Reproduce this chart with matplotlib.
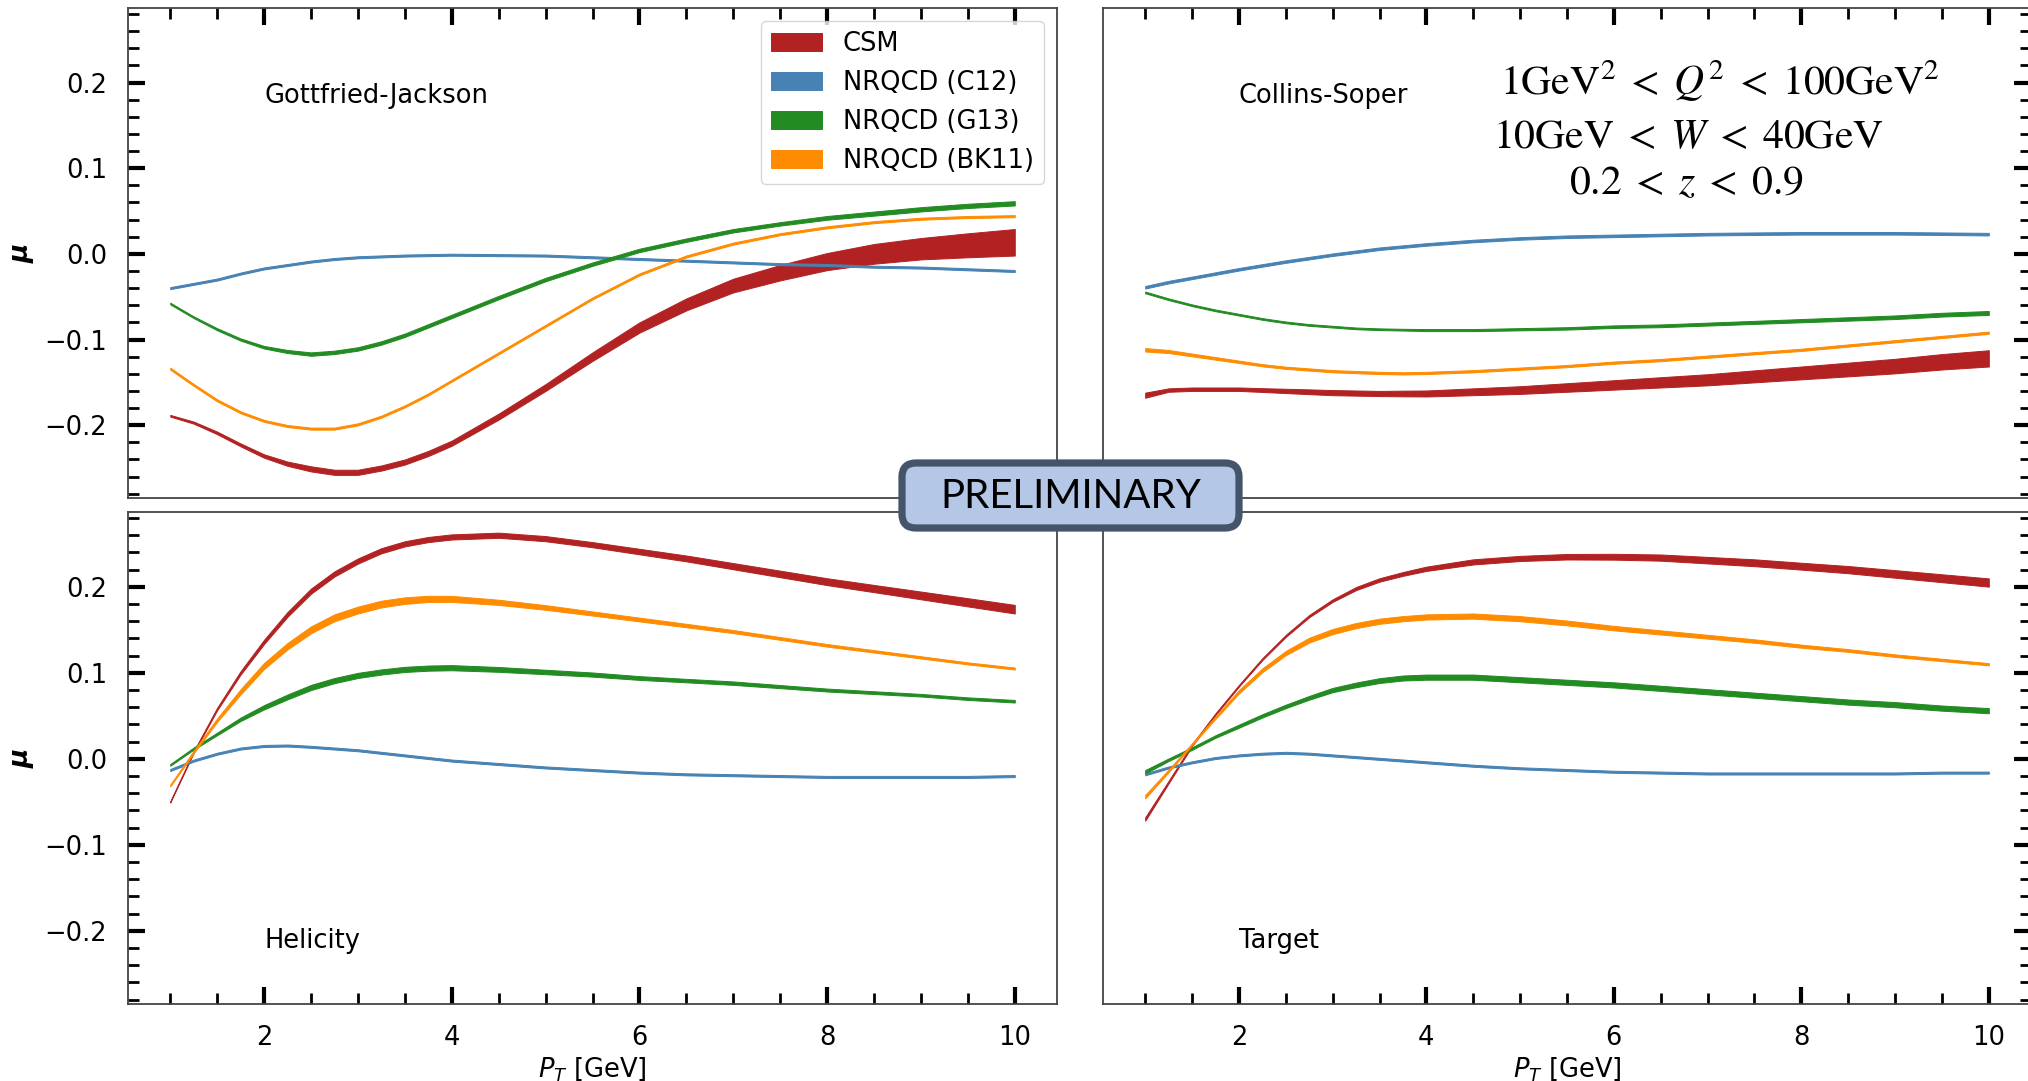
import numpy as np
import matplotlib
matplotlib.use("Agg")
import matplotlib.pyplot as plt
from matplotlib.ticker import MultipleLocator
from matplotlib.patches import FancyBboxPatch

# ---------------- data ----------------
PT = [1, 1.25, 1.5, 1.75, 2, 2.25, 2.5, 2.75, 3, 3.25, 3.5, 3.75, 4,
      4.5, 5, 5.5, 6, 6.5, 7, 7.5, 8, 8.5, 9, 9.5, 10]

SERIES = ["CSM", "NRQCD (C12)", "NRQCD (G13)", "NRQCD (BK11)"]
COLORS = ["#B22222", "#4682B4", "#228B22", "#FF8C00"]
FRAMES = ["Gottfried-Jackson", "Collins-Soper", "Helicity", "Target"]

# Gottfried-Jackson
GJ_CSM = [-0.189, -0.197, -0.209, -0.223, -0.236, -0.245, -0.251, -0.255, -0.255, -0.250, -0.243, -0.233, -0.221,
          -0.190, -0.156, -0.120, -0.086, -0.059, -0.037, -0.022, -0.009, 0.000, 0.006, 0.010, 0.0135]
GJ_CSM_ERR = [0.001, 0.0012, 0.0015, 0.0017, 0.002, 0.0025, 0.003, 0.003, 0.003, 0.003, 0.003, 0.003, 0.003,
              0.0035, 0.004, 0.005, 0.006, 0.007, 0.008, 0.009, 0.010, 0.0115, 0.0125, 0.014, 0.0155]
GJ_C12 = [-0.040, -0.035, -0.030, -0.023, -0.017, -0.013, -0.009, -0.006, -0.004, -0.003, -0.002, -0.0015, -0.001,
          -0.0015, -0.002, -0.004, -0.006, -0.008, -0.010, -0.012, -0.013, -0.015, -0.016, -0.018, -0.020]
GJ_C12_ERR = [0.0012] * 25
GJ_G13 = [-0.058, -0.074, -0.088, -0.100, -0.109, -0.114, -0.117, -0.115, -0.111, -0.104, -0.095, -0.084, -0.073,
          -0.051, -0.030, -0.012, 0.004, 0.016, 0.027, 0.035, 0.042, 0.047, 0.052, 0.056, 0.059]
GJ_G13_ERR = [0.001, 0.001, 0.0012, 0.0013, 0.0015, 0.0018, 0.002, 0.002, 0.002, 0.002, 0.002, 0.002, 0.002,
              0.002, 0.002, 0.002, 0.002, 0.002, 0.002, 0.002, 0.0022, 0.0024, 0.0025, 0.0025, 0.0025]
GJ_BK11 = [-0.134, -0.153, -0.171, -0.185, -0.195, -0.201, -0.204, -0.204, -0.199, -0.190, -0.178, -0.164, -0.148,
           -0.116, -0.084, -0.052, -0.024, -0.003, 0.012, 0.023, 0.031, 0.037, 0.041, 0.043, 0.044]
GJ_BK11_ERR = [0.0012] * 25

# Collins-Soper
CS_CSM = [-0.165, -0.159, -0.158, -0.158, -0.158, -0.159, -0.160, -0.161, -0.162, -0.1625, -0.163, -0.163, -0.163,
          -0.161, -0.159, -0.156, -0.153, -0.150, -0.147, -0.143, -0.139, -0.135, -0.131, -0.126, -0.122]
CS_CSM_ERR = [0.003, 0.002, 0.002, 0.002, 0.002, 0.0022, 0.0025, 0.0028, 0.003, 0.003, 0.003, 0.0033, 0.0035,
              0.004, 0.0045, 0.005, 0.0055, 0.006, 0.0065, 0.007, 0.0075, 0.008, 0.0085, 0.009, 0.0095]
CS_C12 = [-0.039, -0.033, -0.028, -0.023, -0.018, -0.0135, -0.009, -0.005, -0.001, 0.0025, 0.006, 0.0085, 0.011,
          0.015, 0.018, 0.020, 0.021, 0.022, 0.023, 0.0235, 0.024, 0.024, 0.024, 0.0235, 0.023]
CS_C12_ERR = [0.0015] * 25
CS_G13 = [-0.045, -0.053, -0.060, -0.066, -0.071, -0.076, -0.080, -0.083, -0.085, -0.087, -0.088, -0.0885, -0.089,
          -0.089, -0.088, -0.087, -0.085, -0.084, -0.082, -0.080, -0.078, -0.076, -0.074, -0.071, -0.069]
CS_G13_ERR = [0.001, 0.001, 0.001, 0.001, 0.001, 0.001, 0.001, 0.001, 0.001, 0.001, 0.001, 0.001, 0.0012,
              0.0012, 0.0013, 0.0014, 0.0015, 0.0016, 0.0017, 0.0018, 0.0019, 0.002, 0.0021, 0.0022, 0.0023]
CS_BK11 = [-0.112, -0.114, -0.118, -0.122, -0.126, -0.130, -0.133, -0.135, -0.137, -0.138, -0.139, -0.1395, -0.139,
           -0.137, -0.134, -0.131, -0.127, -0.124, -0.120, -0.116, -0.112, -0.107, -0.102, -0.097, -0.092]
CS_BK11_ERR = [0.002, 0.0018, 0.0016, 0.0015, 0.0014, 0.0013, 0.0013, 0.0013, 0.0013, 0.0013, 0.0013, 0.0013, 0.0013,
               0.0013, 0.0013, 0.0013, 0.0013, 0.0013, 0.0013, 0.0013, 0.0013, 0.0013, 0.0013, 0.0013, 0.0013]

# Helicity
HX_CSM = [-0.050, 0.008, 0.058, 0.100, 0.136, 0.168, 0.195, 0.215, 0.230, 0.242, 0.250, 0.255, 0.258,
          0.260, 0.256, 0.249, 0.241, 0.233, 0.224, 0.215, 0.206, 0.198, 0.190, 0.182, 0.174]
HX_CSM_ERR = [0.0008, 0.001, 0.0015, 0.002, 0.0025, 0.0028, 0.003, 0.003, 0.003, 0.003, 0.003, 0.003, 0.003,
              0.003, 0.003, 0.003, 0.0032, 0.0034, 0.0036, 0.0038, 0.004, 0.0042, 0.0045, 0.0048, 0.005]
HX_C12 = [-0.013, -0.002, 0.006, 0.012, 0.015, 0.0155, 0.014, 0.012, 0.010, 0.007, 0.004, 0.001, -0.002,
          -0.006, -0.010, -0.013, -0.016, -0.018, -0.019, -0.020, -0.021, -0.021, -0.021, -0.021, -0.020]
HX_C12_ERR = [0.0012] * 25
HX_G13 = [-0.007, 0.012, 0.029, 0.046, 0.060, 0.072, 0.083, 0.091, 0.097, 0.101, 0.104, 0.1055, 0.106,
          0.104, 0.101, 0.098, 0.094, 0.091, 0.088, 0.084, 0.080, 0.077, 0.074, 0.070, 0.067]
HX_G13_ERR = [0.001, 0.0012, 0.0015, 0.002, 0.0025, 0.0028, 0.003, 0.003, 0.003, 0.003, 0.003, 0.003, 0.003,
              0.0028, 0.0026, 0.0024, 0.0022, 0.002, 0.002, 0.0018, 0.0017, 0.0016, 0.0015, 0.0015, 0.0015]
HX_BK11 = [-0.031, 0.008, 0.045, 0.078, 0.108, 0.131, 0.150, 0.164, 0.173, 0.180, 0.184, 0.186, 0.186,
           0.182, 0.176, 0.169, 0.162, 0.155, 0.148, 0.140, 0.132, 0.125, 0.118, 0.111, 0.105]
HX_BK11_ERR = [0.001, 0.0015, 0.002, 0.003, 0.0035, 0.0038, 0.004, 0.004, 0.004, 0.0039, 0.0038, 0.0036, 0.0035,
               0.003, 0.0027, 0.0024, 0.0022, 0.002, 0.0018, 0.0016, 0.0015, 0.0014, 0.0013, 0.0012, 0.0012]

# Target
TG_CSM = [-0.070, -0.027, 0.016, 0.052, 0.085, 0.116, 0.143, 0.166, 0.184, 0.198, 0.208, 0.215, 0.221,
          0.229, 0.233, 0.235, 0.235, 0.234, 0.231, 0.228, 0.224, 0.220, 0.215, 0.210, 0.205]
TG_CSM_ERR = [0.002, 0.0015, 0.0012, 0.001, 0.001, 0.0011, 0.0012, 0.0013, 0.0015, 0.0018, 0.002, 0.0022, 0.0025,
              0.003, 0.003, 0.0032, 0.0034, 0.0036, 0.0038, 0.004, 0.004, 0.0042, 0.0044, 0.0046, 0.0048]
TG_C12 = [-0.018, -0.010, -0.004, 0.001, 0.004, 0.006, 0.007, 0.006, 0.004, 0.002, 0.000, -0.002, -0.004,
          -0.008, -0.011, -0.013, -0.015, -0.016, -0.017, -0.017, -0.017, -0.017, -0.017, -0.016, -0.016]
TG_C12_ERR = [0.0012] * 25
TG_G13 = [-0.015, -0.001, 0.012, 0.026, 0.038, 0.050, 0.061, 0.071, 0.080, 0.086, 0.091, 0.094, 0.095,
          0.095, 0.092, 0.089, 0.086, 0.082, 0.078, 0.074, 0.070, 0.066, 0.063, 0.059, 0.056]
TG_G13_ERR = [0.002, 0.0015, 0.0015, 0.0015, 0.0018, 0.0019, 0.002, 0.0022, 0.0025, 0.0027, 0.0028, 0.0029, 0.003,
              0.003, 0.003, 0.003, 0.003, 0.003, 0.003, 0.003, 0.003, 0.003, 0.003, 0.003, 0.003]
TG_BK11 = [-0.044, -0.014, 0.017, 0.048, 0.078, 0.103, 0.123, 0.138, 0.148, 0.155, 0.160, 0.163, 0.165,
           0.166, 0.163, 0.158, 0.152, 0.147, 0.142, 0.137, 0.131, 0.126, 0.120, 0.115, 0.110]
TG_BK11_ERR = [0.002, 0.0015, 0.0012, 0.0015, 0.002, 0.0022, 0.0025, 0.0028, 0.003, 0.003, 0.003, 0.003, 0.003,
               0.003, 0.003, 0.0028, 0.0026, 0.0024, 0.0022, 0.002, 0.0018, 0.0016, 0.0015, 0.0014, 0.0013]

PANEL_DATA = [
    [(GJ_CSM, GJ_CSM_ERR), (GJ_C12, GJ_C12_ERR), (GJ_G13, GJ_G13_ERR), (GJ_BK11, GJ_BK11_ERR)],
    [(CS_CSM, CS_CSM_ERR), (CS_C12, CS_C12_ERR), (CS_G13, CS_G13_ERR), (CS_BK11, CS_BK11_ERR)],
    [(HX_CSM, HX_CSM_ERR), (HX_C12, HX_C12_ERR), (HX_G13, HX_G13_ERR), (HX_BK11, HX_BK11_ERR)],
    [(TG_CSM, TG_CSM_ERR), (TG_C12, TG_C12_ERR), (TG_G13, TG_G13_ERR), (TG_BK11, TG_BK11_ERR)],
]

KIN_LINES = [r"$1\mathrm{GeV}^2\;<\;Q^2\;<\;100\mathrm{GeV}^2$",
             r"$10\mathrm{GeV}\;<\;W\;<\;40\mathrm{GeV}$",
             r"$0.2\;<\;z\;<\;0.9$"]

# ---------------- figure ----------------
W, H = 2028, 1081
plt.rcParams['font.family'] = ['DejaVu Sans']
plt.rcParams['font.size'] = 18.5
fig = plt.figure(figsize=(W / 100, H / 100), dpi=100)


def px_axes(x0, x1, ytop, ybot):
    return fig.add_axes([x0 / W, 1 - ybot / H, (x1 - x0) / W, (ybot - ytop) / H])


boxes = [(128, 1057, 8, 498), (1103, 2031, 8, 498),
         (128, 1057, 512, 1004), (1103, 2031, 512, 1004)]
axes = [px_axes(*b) for b in boxes]

x = np.array(PT)
for i, ax in enumerate(axes):
    for (cen, err), col, lab in zip(PANEL_DATA[i], COLORS, SERIES):
        cen = np.array(cen)
        err = np.array(err)
        ax.fill_between(x, cen - err, cen + err, facecolor=col, edgecolor=col,
                        linewidth=0.7, label=lab)
    ax.set_xlim(0.55, 10.45)
    ax.set_ylim(-0.285, 0.287)
    ax.xaxis.set_major_locator(MultipleLocator(2))
    ax.xaxis.set_minor_locator(MultipleLocator(0.5))
    ax.yaxis.set_major_locator(MultipleLocator(0.1))
    ax.yaxis.set_minor_locator(MultipleLocator(0.02))
    top_row = i < 2
    left_col = i % 2 == 0
    ax.tick_params(which='both', direction='in', top=top_row, bottom=not top_row,
                   left=left_col, right=not left_col,
                   labeltop=False, labelbottom=not top_row,
                   labelleft=left_col, labelright=False, colors='black',
                   labelsize=18.5, pad=15)
    ax.tick_params(which='major', length=12, width=3.0)
    ax.tick_params(which='minor', length=8, width=2.0)
    for sp in ax.spines.values():
        sp.set_color('#444444')
        sp.set_linewidth(1.3)
    yname = 0.176 if top_row else -0.220
    ax.text(2.0, yname, FRAMES[i], ha='left', va='baseline', fontsize=18.5)
    if left_col:
        ax.set_ylabel('μ', fontsize=19, fontweight='bold', fontstyle='italic')
        ax.yaxis.set_label_coords(-0.10, 0.5)
    if not top_row:
        ax.set_xlabel(r'$P_T$ [GeV]', fontsize=18.5)
        ax.xaxis.set_label_coords(0.5, -0.104)

axes[0].legend(loc='upper right', fontsize=18.5)

# overlay for annotations
ov = fig.add_axes([0, 0, 1, 1])
ov.set_xlim(0, W)
ov.set_ylim(H, 0)
ov.axis('off')
ov.set_zorder(10)

for txt, (cx, cy) in zip(KIN_LINES, [(1720, 81), (1688, 136), (1687, 182)]):
    ov.text(cx, cy, txt, ha='center', va='center', fontsize=30, math_fontfamily='stix')

box = FancyBboxPatch((902, 463), 337, 65, boxstyle="round,pad=0,rounding_size=14",
                     facecolor='#B4C7E7', edgecolor='#44546A', linewidth=5.2)
ov.add_patch(box)
ov.text(1071, 497, 'PRELIMINARY', ha='center', va='center', fontsize=29,
        family=['Lato', 'DejaVu Sans'], color='black')

fig.savefig('out.png', dpi=100)
